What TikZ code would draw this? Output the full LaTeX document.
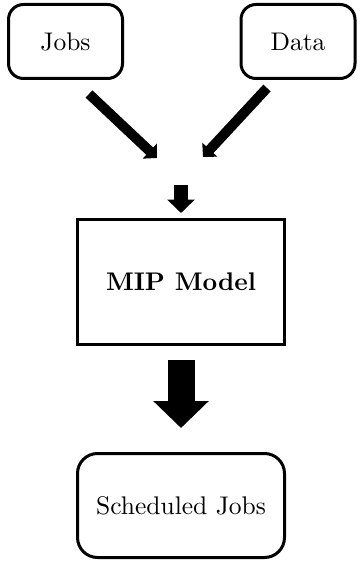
\documentclass[tikz,border=0pt]{standalone}
\usepackage{graphicx}
\usetikzlibrary{arrows.meta}
\newcommand{\bigtxt}[1]{\scalebox{2.55}{#1}}
\begin{document}
\begin{tikzpicture}[x=1pt,y=-1pt,
  box/.style={draw,line width=3pt,inner sep=0pt,font=\fontsize{10}{12}\selectfont},
  rbox/.style={box,rounded corners=#1},
  fatarrow/.style={line width=#1,-{Triangle[length=0pt 1,width=0pt 2]}}]
\useasboundingbox (0,0) rectangle (359,561);
\node[rbox=15pt,minimum width=114pt,minimum height=74pt] (jobs) at (65.5,41.5) {\bigtxt{Jobs}};
\node[rbox=15pt,minimum width=114pt,minimum height=74pt] (data) at (298,41.5) {\bigtxt{Data}};
\node[box,minimum width=207pt,minimum height=125pt,font=\fontsize{10}{12}\selectfont\bfseries] (mip) at (181,282) {\bigtxt{MIP Model}};
\node[rbox=20pt,minimum width=207pt,minimum height=104pt] (sched) at (181,505.5) {\bigtxt{Scheduled Jobs}};
\coordinate (js) at (89,94);
\coordinate (jt) at (157,158);
\coordinate (ds) at (267,88);
\coordinate (dt) at (203,157);
\coordinate (ms) at (181,185);
\coordinate (mt) at (181,213);
\coordinate (bs) at (181,360);
\coordinate (bt) at (181,428);
\draw[fatarrow=10pt] (js) -- (jt);
\draw[fatarrow=10pt] (ds) -- (dt);
\draw[fatarrow=13.5pt] (ms) -- (mt);
\draw[fatarrow=27pt] (bs) -- (bt);
\end{tikzpicture}
\end{document}
